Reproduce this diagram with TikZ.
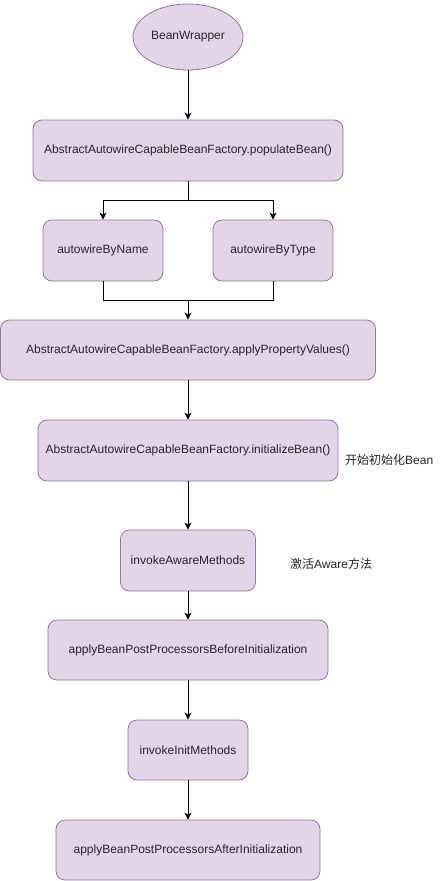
\documentclass[tikz,border=0pt]{standalone}
\usepackage{fontspec}
\setmainfont{Liberation Sans}
\newfontfamily\cjk{Noto Sans CJK SC}
\usetikzlibrary{arrows.meta,positioning,shapes.geometric}
\definecolor{boxfill}{HTML}{E1D5E7}
\definecolor{boxline}{HTML}{9673A6}
\begin{document}
\begin{tikzpicture}[x=1pt,y=-1pt,
  every node/.style={font=\fontsize{12}{14}\selectfont, text=black!85},
  stepbox/.style={draw=boxline, fill=boxfill, line width=0.8pt, rounded corners=9pt,
    inner sep=0pt},
  flow/.style={line width=1pt, -{Stealth[length=7pt,width=7pt,inset=2pt]}},
  link/.style={line width=1pt},
  note/.style={anchor=west, inner sep=0pt}]
\useasboundingbox (0,0) rectangle (444,881);
% start
\node[ellipse, draw=boxline, fill=boxfill, line width=0.8pt, minimum width=110pt,
  minimum height=66pt, inner sep=0pt] (bw) at (188,37) {BeanWrapper};
% boxes
\node[stepbox, minimum width=310pt, minimum height=61pt] (pop) at (188,150.5)
  {AbstractAutowireCapableBeanFactory.populateBean()};
\node[stepbox, minimum width=120pt, minimum height=61pt] (byname) at (103,250.5) {autowireByName};
\node[stepbox, minimum width=120pt, minimum height=61pt] (bytype) at (273,250.5) {autowireByType};
\node[stepbox, minimum width=375pt, minimum height=60pt] (apv) at (188,350)
  {AbstractAutowireCapableBeanFactory.applyPropertyValues()};
\node[stepbox, minimum width=300pt, minimum height=61pt] (init) at (188,450.5)
  {AbstractAutowireCapableBeanFactory.initializeBean()};
\node[stepbox, minimum width=135pt, minimum height=61pt] (aware) at (188,560.5) {invokeAwareMethods};
\node[stepbox, minimum width=280pt, minimum height=60pt] (before) at (188,650)
  {applyBeanPostProcessorsBeforeInitialization};
\node[stepbox, minimum width=120pt, minimum height=60pt] (initm) at (188,750) {invokeInitMethods};
\node[stepbox, minimum width=264pt, minimum height=60pt] (after) at (188,850)
  {applyBeanPostProcessorsAfterInitialization};
% notes
\node[note] (n1) at (345,460) {{\cjk 开始初始化}Bean};
\node[note] (n2) at (290,564) {{\cjk 激活}Aware{\cjk 方法}};
% connectors
\coordinate (split) at (188,200);
\coordinate (merge) at (188,300);
\draw[flow] (bw.south) -- (pop.north);
\draw[link] (pop.south) -- (split);
\draw[flow] (split) -| (byname.north);
\draw[flow] (split) -| (bytype.north);
\draw[link] (byname.south) |- (merge);
\draw[link] (bytype.south) |- (merge);
\draw[flow] (merge) -- (apv.north);
\draw[flow] (apv.south) -- (init.north);
\draw[flow] (init.south) -- (aware.north);
\draw[flow] (aware.south) -- (before.north);
\draw[flow] (before.south) -- (initm.north);
\draw[flow] (initm.south) -- (after.north);
\end{tikzpicture}
\end{document}
